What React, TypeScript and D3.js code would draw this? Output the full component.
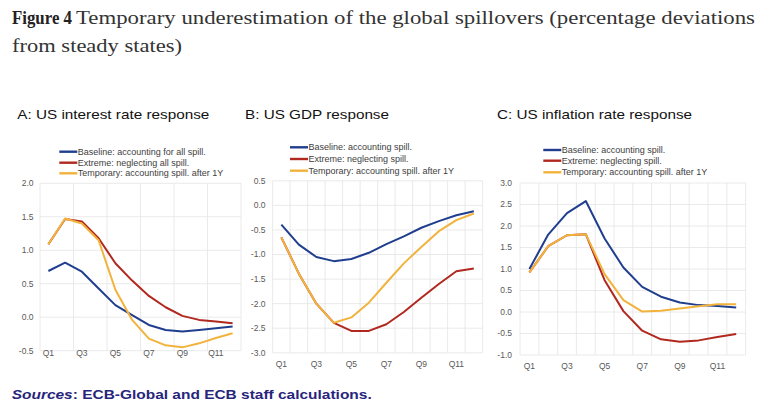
import React from "react";
import * as d3 from "d3";

const quarters = ["Q1","Q2","Q3","Q4","Q5","Q6","Q7","Q8","Q9","Q10","Q11","Q12"];

const rateBaseline = [0.69, 0.815, 0.68, 0.43, 0.18, 0.03, -0.115, -0.19, -0.215, -0.19, -0.165, -0.14];
const rateExtreme = [1.09, 1.467, 1.43, 1.18, 0.806, 0.547, 0.318, 0.149, 0.02, -0.04, -0.065, -0.09];
const rateTemporary = [1.09, 1.475, 1.40, 1.15, 0.41, -0.04, -0.32, -0.42, -0.45, -0.39, -0.31, -0.24];

const gdpBaseline = [-0.39, -0.80, -1.05, -1.135, -1.09, -0.965, -0.79, -0.63, -0.455, -0.32, -0.20, -0.12];
const gdpExtreme = [-0.65, -1.39, -2.0, -2.39, -2.555, -2.555, -2.42, -2.17, -1.88, -1.60, -1.34, -1.285];
const gdpTemporary = [-0.65, -1.39, -2.0, -2.39, -2.28, -1.98, -1.575, -1.18, -0.845, -0.525, -0.30, -0.165];

const inflBaseline = [1.0, 1.80, 2.30, 2.58, 1.71, 1.035, 0.585, 0.355, 0.22, 0.16, 0.14, 0.105];
const inflExtreme = [0.92, 1.53, 1.785, 1.81, 0.74, 0.02, -0.435, -0.635, -0.69, -0.66, -0.58, -0.51];
const inflTemporary = [0.92, 1.53, 1.785, 1.81, 0.88, 0.275, 0.01, 0.03, 0.08, 0.135, 0.18, 0.18];

const legendA = ["Baseline: accounting for all spill.", "Extreme: neglecting all spill.", "Temporary: accounting spill. after 1Y"];
const legendBC = ["Baseline: accounting spill.", "Extreme: neglecting spill.", "Temporary: accounting spill. after 1Y"];

const panelTitles = ["A: US interest rate response", "B: US GDP response", "C: US inflation rate response"];
const xTickLabels = ["Q1", "Q3", "Q5", "Q7", "Q9", "Q11"];

const yTicksA = [-0.5, 0.0, 0.5, 1.0, 1.5, 2.0];
const yTicksB = [-3.0, -2.5, -2.0, -1.5, -1.0, -0.5, 0.0, 0.5];
const yTicksC = [-1.0, -0.5, 0.0, 0.5, 1.0, 1.5, 2.0, 2.5, 3.0];

const COLORS = ["#1f3e8e", "#b1281f", "#f2b33d"];
const SANS = "'Liberation Sans', Arial, Helvetica, sans-serif";

type PanelProps = {
  series: number[][];
  legend: string[];
  yTicks: number[];
  left: number; right: number; top: number; bottom: number;
  gridEvery: number;
  legendX: number; legendY: number[];
  tickRight: number; xLabelY: number;
};

function Panel(p: PanelProps) {
  const x = d3.scaleBand<string>().domain(quarters).range([p.left, p.right]).padding(0);
  const y = d3.scaleLinear().domain([d3.min(p.yTicks)!, d3.max(p.yTicks)!]).range([p.bottom, p.top]);
  const cx = (q: string) => (x(q) as number) + x.bandwidth() / 2;
  const line = d3.line<number>().x((_, i) => cx(quarters[i])).y((d) => y(d));
  const boundaries: number[] = [];
  for (let i = 0; i <= quarters.length; i += p.gridEvery) boundaries.push(p.left + i * x.bandwidth());
  return (
    <g>
      {p.yTicks.map((t) => (
        <line key={"h" + t} x1={p.left} x2={p.right} y1={y(t)} y2={y(t)} stroke="#e4e4e4" strokeWidth={0.8} />
      ))}
      {boundaries.map((b, i) => (
        <line key={"v" + i} x1={b} x2={b} y1={p.top} y2={p.bottom} stroke="#e4e4e4" strokeWidth={0.8} />
      ))}
      {p.yTicks.map((t) => (
        <text key={"t" + t} x={p.tickRight} y={y(t)} dy="0.35em" textAnchor="end" fontSize={8.5} fill="#595959" fontFamily={SANS}>
          {d3.format(".1f")(t).replace("−", "-")}
        </text>
      ))}
      {xTickLabels.map((q) => (
        <text key={"x" + q} x={cx(q)} y={p.xLabelY} textAnchor="middle" fontSize={8.5} fill="#595959" fontFamily={SANS}>
          {q}
        </text>
      ))}
      {p.series.map((s, i) => (
        <path key={"s" + i} d={line(s) || ""} fill="none" stroke={COLORS[i]} strokeWidth={2} strokeLinejoin="round" />
      ))}
      {p.legend.map((l, i) => (
        <g key={"l" + i}>
          <line x1={p.legendX} x2={p.legendX + 18} y1={p.legendY[i]} y2={p.legendY[i]} stroke={COLORS[i]} strokeWidth={2.4} />
          <text x={p.legendX + 18.5} y={p.legendY[i]} dy="0.35em" fontSize={9} fill="#404040" fontFamily={SANS}>
            {l}
          </text>
        </g>
      ))}
    </g>
  );
}

export default function App() {
  return (
    <svg width={760} height={413} style={{ display: "block", position: "absolute", left: 0, top: 0, background: "#fff" }}>
      <rect x={0} y={0} width={760} height={413} fill="#fff" />
      <text x={12} y={24} fontFamily="'Liberation Serif', 'Times New Roman', serif" fontSize={19.5} fontWeight="bold" fill="#222" textLength={60} lengthAdjust="spacingAndGlyphs">
        Figure 4
      </text>
      <text x={76} y={24} fontFamily="'Liberation Serif', 'Times New Roman', serif" fontSize={19.5} fill="#333" textLength={679} lengthAdjust="spacingAndGlyphs">
        Temporary underestimation of the global spillovers (percentage deviations
      </text>
      <text x={12} y={52} fontFamily="'Liberation Serif', 'Times New Roman', serif" fontSize={19.5} fill="#333" textLength={170} lengthAdjust="spacingAndGlyphs">
        from steady states)
      </text>

      <text x={17.3} y={118.5} fontFamily={SANS} fontSize={13} fill="#111" textLength={192} lengthAdjust="spacingAndGlyphs">{panelTitles[0]}</text>
      <text x={245} y={118.5} fontFamily={SANS} fontSize={13} fill="#111" textLength={144} lengthAdjust="spacingAndGlyphs">{panelTitles[1]}</text>
      <text x={497} y={118.5} fontFamily={SANS} fontSize={13} fill="#111" textLength={195} lengthAdjust="spacingAndGlyphs">{panelTitles[2]}</text>

      <Panel series={[rateBaseline, rateExtreme, rateTemporary]} legend={legendA} yTicks={yTicksA}
        left={40} right={241} top={183.3} bottom={350.7} gridEvery={2}
        legendX={59.3} legendY={[151.7, 162.7, 173.3]} tickRight={33.5} xLabelY={356} />
      <Panel series={[gdpBaseline, gdpExtreme, gdpTemporary]} legend={legendBC} yTicks={yTicksB}
        left={272.6} right={482.6} top={180.8} bottom={352.8} gridEvery={1}
        legendX={290} legendY={[147.3, 159, 170.7]} tickRight={265.5} xLabelY={367} />
      <Panel series={[inflBaseline, inflExtreme, inflTemporary]} legend={legendBC} yTicks={yTicksC}
        left={520} right={745.6} top={183} bottom={355} gridEvery={1}
        legendX={543.3} legendY={[150, 160.7, 172.3]} tickRight={512} xLabelY={368.5} />

      <text x={11.7} y={399} fontFamily={SANS} fontSize={13} fontWeight="bold" fill="#27247c" textLength={360} lengthAdjust="spacingAndGlyphs">
        <tspan fontStyle="italic">Sources</tspan>: ECB-Global and ECB staff calculations.
      </text>
    </svg>
  );
}
